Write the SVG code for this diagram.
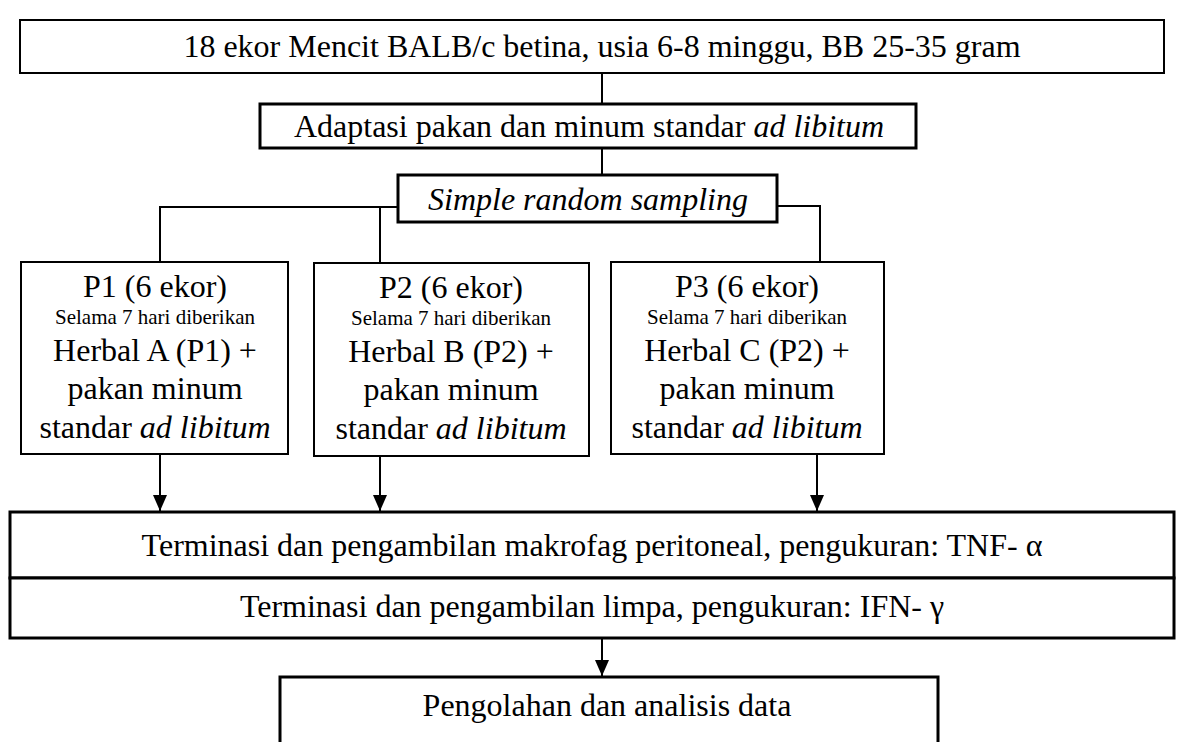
<svg xmlns="http://www.w3.org/2000/svg" width="1184" height="742" viewBox="0 0 1184 742">
<style>
.box{fill:#fff;stroke:#000;stroke-width:2}
.thick{stroke-width:3}
.t{font-family:"Liberation Serif","Times New Roman",serif;font-size:32px;fill:#000;text-anchor:middle}
.s{font-size:21px}
.i{font-style:italic}
.c{fill:none;stroke:#000;stroke-width:2}
</style>
<defs>
<marker id="ah" markerWidth="16" markerHeight="14" refX="16" refY="7" orient="auto" markerUnits="userSpaceOnUse" viewBox="0 0 16 14">
<path d="M0,0 L16,7 L0,14 Z" fill="#000"/>
</marker>
</defs>
<g id="connectors">
<path class="c" d="M602,73 V104"/>
<path class="c" d="M602,148 V175"/>
<path class="c" d="M397,207 H160 V262"/>
<path class="c" d="M380,207 V262"/>
<path class="c" d="M777,206 H820 V262"/>
<path class="c" d="M160,455 V511" marker-end="url(#ah)"/>
<path class="c" d="M380,457 V511" marker-end="url(#ah)"/>
<path class="c" d="M817,455 V511" marker-end="url(#ah)"/>
<path class="c" d="M602,639 V676" marker-end="url(#ah)"/>
</g>
<g id="n1"><rect class="box" x="20" y="20" width="1144" height="53"/><text class="t" x="602" y="57">18 ekor Mencit BALB/c betina, usia 6-8 minggu, BB 25-35 gram</text></g>
<g id="n2"><rect class="box thick" x="260" y="104" width="656" height="44"/><text class="t" x="589" y="137">Adaptasi pakan dan minum standar <tspan class="i">ad libitum</tspan></text></g>
<g id="n3"><rect class="box thick" x="398" y="175" width="379" height="47"/><text class="t i" x="588" y="210">Simple random sampling</text></g>
<g id="p1"><rect class="box" x="21" y="262" width="267" height="192"/>
<text class="t" x="155" y="297">P1 (6 ekor)</text>
<text class="t s" x="155" y="324">Selama 7 hari diberikan</text>
<text class="t" x="155" y="361">Herbal A (P1) +</text>
<text class="t" x="155" y="399">pakan minum</text>
<text class="t" x="155" y="438">standar <tspan class="i">ad libitum</tspan></text></g>
<g id="p2"><rect class="box" x="314" y="263" width="275" height="193"/>
<text class="t" x="451" y="298">P2 (6 ekor)</text>
<text class="t s" x="451" y="325">Selama 7 hari diberikan</text>
<text class="t" x="451" y="362">Herbal B (P2) +</text>
<text class="t" x="451" y="400">pakan minum</text>
<text class="t" x="451" y="439">standar <tspan class="i">ad libitum</tspan></text></g>
<g id="p3"><rect class="box" x="611" y="262" width="273" height="192"/>
<text class="t" x="747" y="297">P3 (6 ekor)</text>
<text class="t s" x="747" y="324">Selama 7 hari diberikan</text>
<text class="t" x="747" y="361">Herbal C (P2) +</text>
<text class="t" x="747" y="399">pakan minum</text>
<text class="t" x="747" y="438">standar <tspan class="i">ad libitum</tspan></text></g>
<g id="n4"><rect class="box thick" x="10" y="512" width="1164" height="66"/><text class="t" x="592" y="556">Terminasi dan pengambilan makrofag peritoneal, pengukuran: TNF- α</text></g>
<g id="n5"><rect class="box thick" x="10" y="578" width="1164" height="60"/><text class="t" x="592" y="617">Terminasi dan pengambilan limpa, pengukuran: IFN- γ</text></g>
<g id="n6"><rect class="box thick" x="280" y="677" width="658" height="80"/><text class="t" x="607" y="716">Pengolahan dan analisis data</text></g>
</svg>
